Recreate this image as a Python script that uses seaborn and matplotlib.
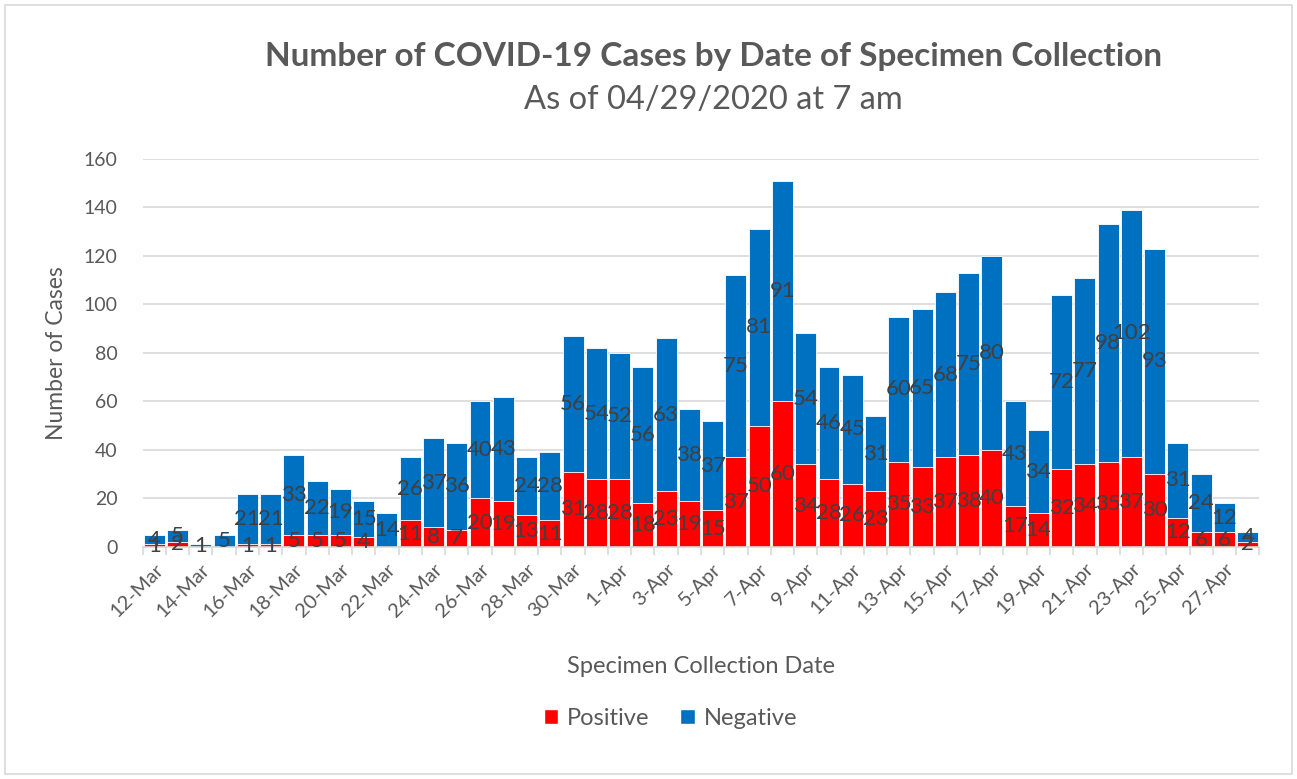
import matplotlib
matplotlib.use("Agg")
import matplotlib.pyplot as plt
from matplotlib.patches import Patch, Rectangle
from matplotlib.ticker import MultipleLocator, FixedLocator
import seaborn as sns
import pandas as pd

dates = ["12-Mar", "13-Mar", "14-Mar", "15-Mar", "16-Mar", "17-Mar", "18-Mar", "19-Mar",
         "20-Mar", "21-Mar", "22-Mar", "23-Mar", "24-Mar", "25-Mar", "26-Mar", "27-Mar",
         "28-Mar", "29-Mar", "30-Mar", "31-Mar", "1-Apr", "2-Apr", "3-Apr", "4-Apr",
         "5-Apr", "6-Apr", "7-Apr", "8-Apr", "9-Apr", "10-Apr", "11-Apr", "12-Apr",
         "13-Apr", "14-Apr", "15-Apr", "16-Apr", "17-Apr", "18-Apr", "19-Apr", "20-Apr",
         "21-Apr", "22-Apr", "23-Apr", "24-Apr", "25-Apr", "26-Apr", "27-Apr", "28-Apr"]
positive = [1, 2, 0, 0, 1, 1, 5, 5, 5, 4, 0, 11, 8, 7, 20, 19, 13, 11, 31, 28,
            28, 18, 23, 19, 15, 37, 50, 60, 34, 28, 26, 23, 35, 33, 37, 38, 40, 17,
            14, 32, 34, 35, 37, 30, 12, 6, 6, 2]
negative = [4, 5, 1, 5, 21, 21, 33, 22, 19, 15, 14, 26, 37, 36, 40, 43, 24, 28, 56, 54,
            52, 56, 63, 38, 37, 75, 81, 91, 54, 46, 45, 31, 60, 65, 68, 75, 80, 43,
            34, 72, 77, 98, 102, 93, 31, 24, 12, 4]

df = pd.DataFrame({"date": dates, "Positive": positive, "Negative": negative})
df["Total"] = df["Positive"] + df["Negative"]

sns.set_style("white")
plt.rcParams["font.family"] = ["Lato", "DejaVu Sans"]

BLUE = "#0070C0"
RED = "#FF0000"
GREY = "#595959"

fig = plt.figure(figsize=(12.97, 7.79), dpi=100)
ax = fig.add_axes([0.110, 0.298, 0.861, 0.498])

sns.barplot(data=df, x="date", y="Total", color=BLUE, saturation=1, width=0.9,
            edgecolor="white", linewidth=0.6, ax=ax)
sns.barplot(data=df, x="date", y="Positive", color=RED, saturation=1, width=0.9,
            edgecolor="white", linewidth=0.6, ax=ax)

# data labels centred in each segment
for i, (p, n) in enumerate(zip(positive, negative)):
    if p:
        ax.text(i, p / 2, str(p), ha="center", va="center", fontsize=16, color="#404040")
    if n:
        ax.text(i, p + n / 2, str(n), ha="center", va="center", fontsize=16, color="#404040")

ax.set_ylim(0, 160)
ax.set_xlim(-0.5, len(dates) - 0.5)
ax.yaxis.set_major_locator(MultipleLocator(20))
ax.grid(axis="y", color="#D9D9D9", linewidth=1.2)
ax.set_axisbelow(True)
for s in ["top", "right", "left"]:
    ax.spines[s].set_visible(False)
ax.spines["bottom"].set_color("#D9D9D9")
ax.spines["bottom"].set_linewidth(1.2)

ax.set_xticks(range(0, len(dates), 2))
ax.set_xticklabels(dates[::2], rotation=45, ha="right", rotation_mode="anchor",
                   fontsize=14.5, color=GREY)
ax.xaxis.set_minor_locator(FixedLocator([i - 0.5 for i in range(len(dates) + 1)]))
ax.tick_params(axis="x", which="major", length=0, pad=10)
ax.tick_params(axis="x", which="minor", length=6, color="#D9D9D9", width=1.2, bottom=True)
ax.tick_params(axis="y", length=0, labelsize=14, labelcolor=GREY, pad=18)

ax.set_xlabel("Specimen Collection Date", fontsize=17, color=GREY, labelpad=26)
ax.set_ylabel("Number of Cases", fontsize=16.5, color=GREY, labelpad=12)

fig.text(0.55, 0.927, "Number of COVID-19 Cases by Date of Specimen Collection",
         ha="center", va="center", fontsize=24, fontweight="bold", color=GREY)
fig.text(0.55, 0.871, "As of 04/29/2020 at 7 am", ha="center", va="center",
         fontsize=23.5, color=GREY)

handles = [Patch(facecolor=RED, label="Positive"), Patch(facecolor=BLUE, label="Negative")]
fig.legend(handles=handles, loc="center", bbox_to_anchor=(0.517, 0.078), ncol=2,
           frameon=False, fontsize=17, handlelength=0.6, handleheight=0.6,
           handletextpad=0.4, columnspacing=1.3, labelcolor=GREY)

fig.patches.append(Rectangle((0.004, 0.006), 0.992, 0.988, transform=fig.transFigure,
                             fill=False, edgecolor="#D9D9D9", linewidth=1.2))

fig.savefig("out.png", dpi=100)
